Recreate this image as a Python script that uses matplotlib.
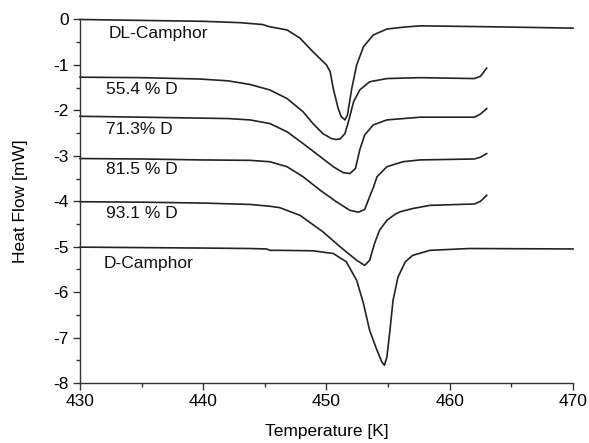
import numpy as np
import matplotlib
matplotlib.use('Agg')
import matplotlib.pyplot as plt
from matplotlib.ticker import MultipleLocator

plt.rcParams['font.family'] = ['Liberation Sans', 'DejaVu Sans']
plt.rcParams['axes.unicode_minus'] = False

# DSC-Kurven, Werte
t_dl = [430, 435, 440, 443, 444.8, 445.4, 446.8, 447.85, 448.9, 450.0, 450.3, 450.55,
        450.95, 451.2, 451.5, 451.7, 452.05, 452.45, 453.0, 453.8, 454.9, 456.2, 457.6,
        463.3, 470]
hf_dl = [0, -0.02, -0.04, -0.07, -0.11, -0.16, -0.23, -0.41, -0.71, -1.00, -1.15, -1.52,
         -1.96, -2.14, -2.21, -2.10, -1.52, -1.00, -0.60, -0.34, -0.21, -0.17, -0.14,
         -0.16, -0.19]

t_554 = [430, 435, 439.7, 442, 443.8, 445.4, 446.8, 448.1, 448.9, 449.7, 450.4, 450.75,
         451.1, 451.5, 451.8, 452.2, 452.7, 453.5, 454.9, 457.6, 462.0, 462.5, 463.0]
hf_554 = [-1.27, -1.28, -1.31, -1.35, -1.43, -1.55, -1.74, -2.03, -2.29, -2.51, -2.62, -2.64,
          -2.63, -2.51, -2.23, -1.81, -1.55, -1.37, -1.30, -1.28, -1.30, -1.25, -1.07]

t_713 = [430, 435, 439.7, 442, 443.8, 445.4, 446.8, 448.1, 449.5, 450.55, 451.35, 451.9,
         452.35, 452.7, 453.1, 453.8, 454.9, 457.6, 462.0, 462.5, 463.0]
hf_713 = [-2.13, -2.15, -2.17, -2.18, -2.21, -2.29, -2.47, -2.73, -3.02, -3.24, -3.37, -3.39,
          -3.28, -2.87, -2.54, -2.32, -2.21, -2.15, -2.15, -2.08, -1.96]

t_815 = [430, 435, 439.7, 443.8, 445.4, 446.8, 448.1, 449.5, 450.8, 451.9, 452.6, 453.1,
         453.5, 453.8, 454.1, 454.9, 456.2, 457.6, 462.0, 462.5, 463.0]
hf_815 = [-3.06, -3.07, -3.09, -3.10, -3.13, -3.24, -3.46, -3.76, -4.01, -4.20, -4.24, -4.18,
          -3.90, -3.70, -3.46, -3.24, -3.13, -3.09, -3.07, -3.03, -2.95]

t_931 = [430, 435, 440, 443.8, 445.4, 446.2, 447.85, 449.7, 451.1, 452.45, 453.1, 453.5,
         453.9, 454.3, 454.9, 455.6, 456.0, 457.0, 458.4, 462.0, 462.5, 463.0]
hf_931 = [-4.01, -4.02, -4.04, -4.07, -4.11, -4.14, -4.31, -4.67, -5.00, -5.30, -5.41, -5.30,
          -4.93, -4.64, -4.42, -4.28, -4.23, -4.16, -4.09, -4.06, -4.00, -3.87]

t_d = [430, 435, 440, 443.8, 445.15, 445.4, 446.2, 448.9, 450.55, 451.6, 452.45, 453.0,
       453.5, 454.1, 454.5, 454.7, 454.9, 455.15, 455.4, 455.8, 456.4, 457.0, 458.4,
       461.6, 470]
hf_d = [-5.01, -5.02, -5.03, -5.04, -5.05, -5.08, -5.08, -5.09, -5.15, -5.33, -5.74, -6.25,
        -6.84, -7.28, -7.54, -7.61, -7.43, -6.84, -6.18, -5.67, -5.33, -5.19, -5.08,
        -5.04, -5.05]

curves = [(t_dl, hf_dl), (t_554, hf_554), (t_713, hf_713),
          (t_815, hf_815), (t_931, hf_931), (t_d, hf_d)]
labels = ['DL-Camphor', '55.4 % D', '71.3% D', '81.5 % D', '93.1 % D', 'D-Camphor']
label_x = [432.3, 432.1, 432.1, 432.1, 432.1, 431.9]
label_y = [-0.30, -1.55, -2.41, -3.31, -4.27, -5.36]

fig = plt.figure(figsize=(5.89, 4.43), dpi=100)
ax = fig.add_axes([0.1358, 0.1354, 0.8370, 0.8206])

for t, hf in curves:
    ax.plot(t, hf, color='#222222', lw=1.2, clip_on=False,
            solid_joinstyle='round')

for s, x, y in zip(labels, label_x, label_y):
    ax.text(x, y, s, fontsize=12.5, ha='left', va='center', color='#111111')

ax.set_xlim(430, 470)
ax.set_ylim(-8, 0)
ax.xaxis.set_major_locator(MultipleLocator(10))
ax.xaxis.set_minor_locator(MultipleLocator(5))
ax.yaxis.set_major_locator(MultipleLocator(1))
ax.yaxis.set_minor_locator(MultipleLocator(0.5))

for side in ['top', 'right']:
    ax.spines[side].set_visible(False)
for side in ['left', 'bottom']:
    ax.spines[side].set_color('#333333')
    ax.spines[side].set_linewidth(1.0)

ax.tick_params(which='major', direction='out', length=5, width=1.0, color='#333333',
               labelsize=12.5, pad=3)
ax.tick_params(which='minor', direction='out', length=3, width=1.0, color='#333333')

ax.set_xlabel('Temperature [K]', fontsize=12.5, labelpad=11)
ax.set_ylabel('Heat Flow [mW]', fontsize=12.5, labelpad=18)

fig.savefig('out.png', dpi=100)
